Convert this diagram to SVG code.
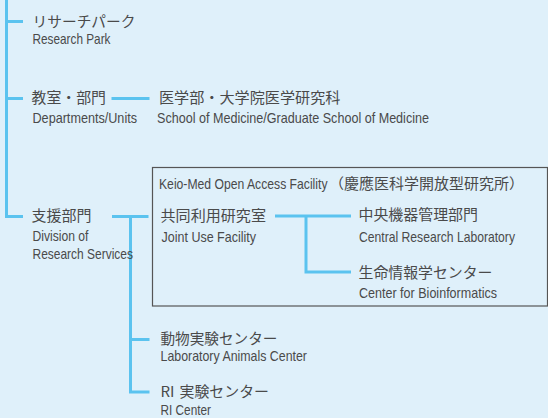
<svg xmlns="http://www.w3.org/2000/svg" width="548" height="418" viewBox="0 0 548 418">
<style>
.bg{fill:#dff0fa}
.ln{fill:none;stroke:#5bc3ef;stroke-width:3}
.jp{font-family:"Noto Sans CJK JP","Noto Sans",sans-serif;font-size:14.5px;fill:#4a4a4a}
.en{font-family:"Liberation Sans","Roboto",sans-serif;font-size:14.2px;fill:#4a4a4a}
.box{fill:none;stroke:#555;stroke-width:1.2}
</style>
<rect class="bg" x="0" y="0" width="548" height="418"/>
<g id="connectors">
<path class="ln" d="M6.5 0 V216.5 H23"/>
<path class="ln" d="M6.5 21.5 H23"/>
<path class="ln" d="M6.5 98.5 H23"/>
<path class="ln" d="M111.5 98.5 H149.5"/>
<path class="ln" d="M112 216.5 H148.5"/>
<path class="ln" d="M130.5 216.5 V392 H149.5"/>
<path class="ln" d="M130.5 339.5 H149.5"/>
<path class="ln" d="M275 216 H351"/>
<path class="ln" d="M306 216 V272 H351"/>
</g>
<g id="facility-box">
<rect class="box" x="152.5" y="167.5" width="395" height="138.5"/>
<text class="en" y="189.3"><tspan x="159" textLength="168.5" lengthAdjust="spacingAndGlyphs">Keio-Med Open Access Facility</tspan><tspan class="jp" x="329" textLength="195" lengthAdjust="spacingAndGlyphs">（慶應医科学開放型研究所）</tspan></text>
</g>
<g id="research-park">
<text class="jp" x="32.5" y="27" textLength="103" lengthAdjust="spacingAndGlyphs">リサーチパーク</text>
<text class="en" x="32.5" y="44" textLength="78" lengthAdjust="spacingAndGlyphs">Research Park</text>
</g>
<g id="departments">
<text class="jp" x="31.5" y="102.5" textLength="74.5" lengthAdjust="spacingAndGlyphs">教室・部門</text>
<text class="en" x="32.5" y="123.3" textLength="104.5" lengthAdjust="spacingAndGlyphs">Departments/Units</text>
</g>
<g id="school-of-medicine">
<text class="jp" x="159" y="102.5" textLength="181.5" lengthAdjust="spacingAndGlyphs">医学部・大学院医学研究科</text>
<text class="en" x="157" y="122.5" textLength="272" lengthAdjust="spacingAndGlyphs">School of Medicine/Graduate School of Medicine</text>
</g>
<g id="research-services">
<text class="jp" x="31.5" y="221" textLength="60" lengthAdjust="spacingAndGlyphs">支援部門</text>
<text class="en" x="32.5" y="240.7" textLength="56" lengthAdjust="spacingAndGlyphs">Division of</text>
<text class="en" x="32.5" y="259" textLength="100.5" lengthAdjust="spacingAndGlyphs">Research Services</text>
</g>
<g id="joint-use">
<text class="jp" x="160.5" y="220.5" textLength="105.5" lengthAdjust="spacingAndGlyphs">共同利用研究室</text>
<text class="en" x="161.5" y="241.7" textLength="94.5" lengthAdjust="spacingAndGlyphs">Joint Use Facility</text>
</g>
<g id="central-lab">
<text class="jp" x="358.5" y="220" textLength="119.5" lengthAdjust="spacingAndGlyphs">中央機器管理部門</text>
<text class="en" x="359" y="241.7" textLength="156" lengthAdjust="spacingAndGlyphs">Central Research Laboratory</text>
</g>
<g id="bioinformatics">
<text class="jp" x="358.5" y="277.5" textLength="134" lengthAdjust="spacingAndGlyphs">生命情報学センター</text>
<text class="en" x="359" y="298.3" textLength="138" lengthAdjust="spacingAndGlyphs">Center for Bioinformatics</text>
</g>
<g id="animals-center">
<text class="jp" x="160.5" y="343.5" textLength="117" lengthAdjust="spacingAndGlyphs">動物実験センター</text>
<text class="en" x="160.5" y="360.7" textLength="146.5" lengthAdjust="spacingAndGlyphs">Laboratory Animals Center</text>
</g>
<g id="ri-center">
<text class="jp" y="397"><tspan x="160.5" textLength="14" lengthAdjust="spacingAndGlyphs">RI</tspan> <tspan x="179.5" textLength="89.5" lengthAdjust="spacingAndGlyphs">実験センター</tspan></text>
<text class="en" x="160.5" y="414.5" textLength="50.5" lengthAdjust="spacingAndGlyphs">RI Center</text>
</g>
</svg>
